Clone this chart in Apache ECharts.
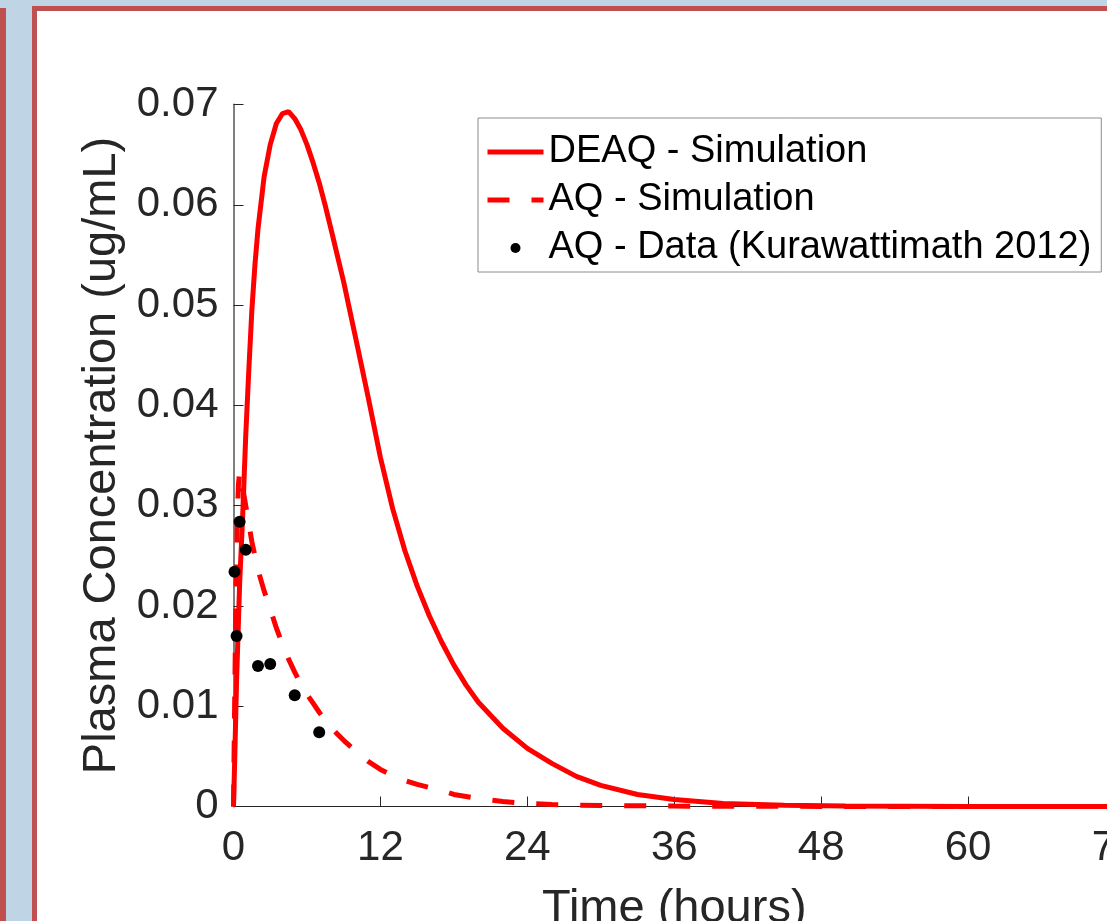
<!DOCTYPE html>
<html>
<head>
<meta charset="utf-8">
<script src="https://cdn.jsdelivr.net/npm/echarts@6/dist/echarts.min.js"></script>
<style>
  html, body { margin: 0; padding: 0; width: 1107px; height: 921px; overflow: hidden; background: #bfd5e6; }
  #leftStrip { position: absolute; left: 0; top: 8px; width: 6px; height: 2000px; background: #c0504f; }
  #panel { position: absolute; left: 32px; top: 6px; width: 1300px; height: 1200px; background: #ffffff; border-left: 5px solid #c0504f; border-top: 5px solid #c0504f; }
  #chart { position: absolute; left: 0; top: 0; width: 1220px; height: 1000px; }
</style>
</head>
<body>
<div id="leftStrip"></div>
<div id="panel"></div>
<div id="chart"></div>
<script>
// ---- data ----
const xTicks = [0, 12, 24, 36, 48, 60, 72];
const yTicks = [0, 0.01, 0.02, 0.03, 0.04, 0.05, 0.06, 0.07];

const seriesNames = ['DEAQ - Simulation', 'AQ - Simulation', 'AQ - Data (Kurawattimath 2012)'];

const deaqTime = [0, 0.1, 0.25, 0.5, 0.75, 1, 1.25, 1.5, 1.75, 2, 2.5, 3, 3.5, 4, 4.5, 5, 5.5, 6, 6.5, 7, 7.5, 8, 9, 10, 11, 12, 13, 14, 15, 16, 17, 18, 19, 20, 22, 24, 26, 28, 30, 33, 36, 40, 45, 50, 60, 72];
const deaqConc = [0, 0.0047, 0.0125, 0.0222, 0.0290, 0.0370, 0.0435, 0.0495, 0.0540, 0.0576, 0.0628, 0.0660, 0.0681, 0.0691, 0.0693, 0.0686, 0.0675, 0.0660, 0.0642, 0.0622, 0.0599, 0.0574, 0.0523, 0.0466, 0.0408, 0.0348, 0.0297, 0.0255, 0.0220, 0.0190, 0.0164, 0.0141, 0.0121, 0.0104, 0.0078, 0.0058, 0.0043, 0.0030, 0.0021, 0.0012, 0.0007, 0.0003, 0.00012, 0.00005, 0.00001, 0];

const aqTime = [0, 0.1, 0.2, 0.3, 0.4, 0.5, 0.6, 0.75, 1, 1.25, 1.5, 2, 2.5, 3, 3.5, 4, 4.5, 5, 5.5, 6, 6.5, 7, 7.5, 8, 8.5, 9, 10, 11, 12, 13, 14, 15, 16, 17, 18, 19, 20, 22, 24, 26, 28, 30, 36, 42, 48, 60, 72];
const aqConc = [0, 0.0110, 0.0210, 0.0280, 0.0320, 0.0334, 0.0333, 0.0318, 0.0300, 0.0282, 0.0264, 0.0236, 0.0215, 0.0197, 0.0178, 0.0162, 0.0147, 0.0134, 0.0122, 0.0112, 0.0103, 0.0094, 0.0086, 0.0079, 0.0072, 0.0066, 0.0055, 0.0045, 0.0037, 0.0031, 0.0026, 0.0022, 0.0019, 0.0016, 0.0012, 0.0010, 0.0008, 0.0005, 0.0003, 0.0002, 0.00014, 0.0001, 0.00004, 0.00002, 0.00001, 0, 0];

const dataTime = [0.083, 0.25, 0.5, 1, 2, 3, 5, 7];
const dataConc = [0.0234, 0.0170, 0.0284, 0.0256, 0.0140, 0.0142, 0.0111, 0.0074];

// ---- chart ----
const pair = (xs, ys) => xs.map((x, i) => [x, ys[i]]);
const FONT = '"Liberation Sans", Arial, Helvetica, sans-serif';
const AX = '#262626';

const chart = echarts.init(document.getElementById('chart'), null, { renderer: 'canvas' });
chart.setOption({
  animation: false,
  backgroundColor: 'transparent',
  grid: { left: 233.5, top: 104.5, width: 881.5, height: 702, containLabel: false },
  xAxis: {
    type: 'value', min: xTicks[0], max: xTicks[xTicks.length - 1], interval: 12,
    name: 'Time (hours)', nameLocation: 'middle', nameGap: 79,
    nameTextStyle: { fontSize: 47, color: AX, fontFamily: FONT },
    axisLine: { show: true, onZero: false, lineStyle: { color: AX, width: 1 } },
    axisTick: { show: true, inside: true, length: 10, lineStyle: { color: AX, width: 1 } },
    axisLabel: { fontSize: 42, color: AX, fontFamily: FONT, margin: 21 },
    splitLine: { show: false }
  },
  yAxis: {
    type: 'value', min: yTicks[0], max: yTicks[yTicks.length - 1], interval: 0.01,
    name: 'Plasma Concentration (ug/mL)', nameLocation: 'middle', nameGap: 95,
    nameTextStyle: { fontSize: 47, color: AX, fontFamily: FONT },
    axisLine: { show: true, onZero: false, lineStyle: { color: '#7f7f7f', width: 2 } },
    axisTick: { show: true, inside: true, length: 10, lineStyle: { color: AX, width: 1 } },
    axisLabel: { fontSize: 42, color: AX, fontFamily: FONT, margin: 15, padding: [4, 0, 0, 0] },
    splitLine: { show: false }
  },
  legend: {
    orient: 'vertical', left: 478, top: 118,
    data: [
      { name: seriesNames[0], itemStyle: { opacity: 0 } },
      { name: seriesNames[1], itemStyle: { opacity: 0 } },
      { name: seriesNames[2] }
    ],
    backgroundColor: '#ffffff', borderColor: '#8c8c8c', borderWidth: 1,
    padding: [15, 10, 5, 7], itemWidth: 56, itemHeight: 10, itemGap: 10,
    textStyle: { fontSize: 38, color: '#000000', fontFamily: FONT, lineHeight: 38 },
    lineStyle: { width: 5 },
    selectedMode: false
  },
  series: [
    {
      name: seriesNames[0], type: 'line', data: pair(deaqTime, deaqConc),
      showSymbol: false, symbol: 'none', smooth: false,
      lineStyle: { color: '#ff0000', width: 5 }, itemStyle: { color: '#ff0000' }, z: 2
    },
    {
      name: seriesNames[1], type: 'line', data: pair(aqTime, aqConc),
      showSymbol: false, symbol: 'none', smooth: false,
      lineStyle: { color: '#ff0000', width: 5, type: [22, 22] }, itemStyle: { color: '#ff0000' }, z: 3
    },
    {
      name: seriesNames[2], type: 'scatter', data: pair(dataTime, dataConc),
      symbol: 'circle', symbolSize: 12, itemStyle: { color: '#000000', opacity: 1 }, z: 4
    }
  ]
});
</script>
</body>
</html>
